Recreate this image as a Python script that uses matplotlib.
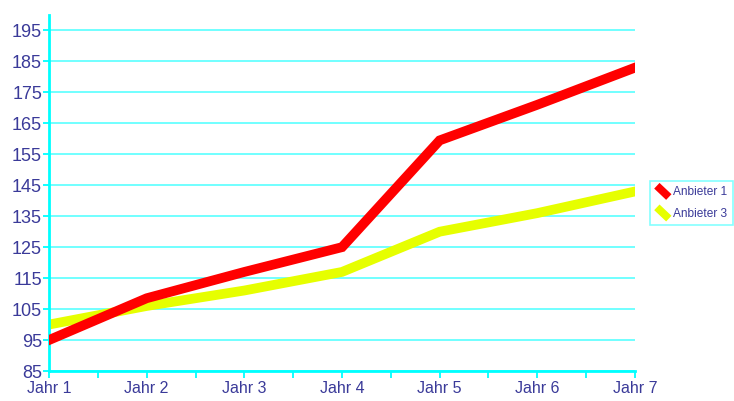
import numpy as np
import matplotlib
matplotlib.use("Agg")
import matplotlib.pyplot as plt
from matplotlib.legend_handler import HandlerLine2D
from matplotlib.lines import Line2D

plt.rcParams["font.family"] = ["Liberation Sans", "DejaVu Sans"]

YEARS = ["Jahr 1", "Jahr 2", "Jahr 3", "Jahr 4", "Jahr 5", "Jahr 6", "Jahr 7"]
ANBIETER_1 = [95, 108.5, 117, 125, 159.5, 171, 183]
ANBIETER_3 = [100, 106, 111, 117, 130, 136, 143]
Y_TICKS = list(range(85, 200, 10))

TXT = "#3a3a99"
CYAN = "#00FFFF"
GRID = "#66FFFF"


class DiagHandler(HandlerLine2D):
    # kurze diagonale Linie statt horizontal
    def create_artists(self, legend, orig, xd, yd, w, h, fontsize, trans):
        ln = Line2D([xd + w * 0.1, xd + w * 0.9], [yd + h * 1.15, yd - h * 0.2],
                    color=orig.get_color(), lw=orig.get_linewidth() * 0.8,
                    solid_capstyle="butt")
        ln.set_transform(trans)
        return [ln]


fig = plt.figure(figsize=(7.34, 4.01), dpi=100)
ax = fig.add_axes([49/734, 1 - 371/401, (635-49)/734, (371-15)/401])

x = np.arange(len(YEARS))
l1, = ax.plot(x, ANBIETER_1, color="#FF0000", lw=7, solid_joinstyle="miter", label="Anbieter 1", zorder=3)
l3, = ax.plot(x, ANBIETER_3, color="#E6FF00", lw=7, solid_joinstyle="miter", label="Anbieter 3", zorder=2)

ax.set_xlim(0, len(YEARS) - 1)
ax.set_ylim(85, 200)
ax.set_yticks(Y_TICKS)
ax.set_xticks(x)
ax.set_xticks(np.arange(0.5, len(YEARS) - 1, 1), minor=True)
ax.set_xticklabels(YEARS)
ax.grid(axis="y", color=GRID, lw=1.3, zorder=0)
ax.set_axisbelow(True)

for s in ["top", "right"]:
    ax.spines[s].set_visible(False)
for s in ["left", "bottom"]:
    ax.spines[s].set_color(CYAN)
    ax.spines[s].set_linewidth(2)

ax.tick_params(axis="y", colors=CYAN, labelcolor=TXT, labelsize=13, length=4, width=1.3, direction="out", pad=1)
ax.tick_params(axis="x", which="both", colors=CYAN, labelcolor=TXT, labelsize=11.5, length=5, width=1.3, direction="out", pad=2)

leg = fig.legend(handles=[l1, l3], loc="upper left", bbox_to_anchor=(650/734, 1 - 181/401),
                 handler_map={Line2D: DiagHandler()}, fontsize=8.6, frameon=True, fancybox=False,
                 handlelength=1.25, handletextpad=0.25, borderpad=0.45, labelspacing=0.8,
                 borderaxespad=0)
leg.get_frame().set_edgecolor(GRID)
leg.get_frame().set_linewidth(1.2)
for t in leg.get_texts():
    t.set_color(TXT)

fig.savefig("out.png", dpi=100)
